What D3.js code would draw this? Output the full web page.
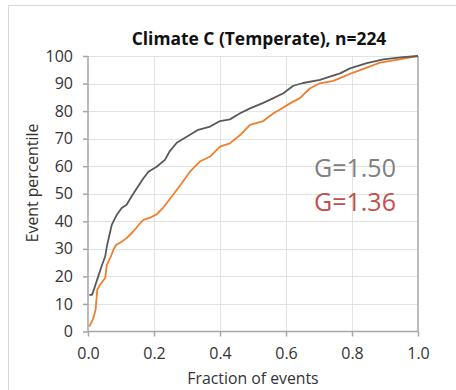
<!DOCTYPE html>
<html>
<head>
<meta charset="utf-8">
<script src="https://cdn.jsdelivr.net/npm/d3@7"></script>
<style>
  html, body { margin: 0; padding: 0; background: #fff; }
  svg { display: block; }
  text { font-family: "Open Sans", Lato, sans-serif; }
</style>
</head>
<body>
<svg id="chart" width="456" height="390"></svg>
<script>
// Cumulative event percentile vs. fraction of events (two Lorenz-type curves)
const chartTitle = "Climate C (Temperate), n=224";
const xTicks = [0, 0.2, 0.4, 0.6, 0.8, 1.0];
const yTicks = [0, 10, 20, 30, 40, 50, 60, 70, 80, 90, 100];

// Gray series
const grayFrac = [0.004, 0.012, 0.021, 0.031, 0.041, 0.052, 0.057, 0.065, 0.072, 0.087, 0.102, 0.117, 0.132, 0.148, 0.168, 0.183, 0.208, 0.233, 0.248, 0.269, 0.299, 0.334, 0.370, 0.400, 0.430, 0.461, 0.491, 0.531, 0.562, 0.592, 0.622, 0.652, 0.703, 0.733, 0.764, 0.794, 0.845, 0.895, 0.955, 1.0];
const grayPct  = [13.3, 13.3, 16.3, 20.0, 23.6, 27.2, 30.8, 35.0, 38.7, 42.3, 44.8, 46.0, 49.0, 52.0, 55.6, 58.0, 59.8, 62.3, 65.5, 68.5, 70.7, 73.2, 74.4, 76.4, 77.0, 79.2, 81.0, 83.0, 84.7, 86.5, 89.2, 90.2, 91.3, 92.5, 93.7, 95.5, 97.4, 98.8, 99.6, 100];

// Orange series
const orangeFrac = [0.004, 0.016, 0.023, 0.028, 0.036, 0.052, 0.057, 0.067, 0.077, 0.085, 0.102, 0.117, 0.137, 0.158, 0.168, 0.188, 0.208, 0.228, 0.254, 0.279, 0.309, 0.339, 0.370, 0.400, 0.430, 0.461, 0.491, 0.531, 0.562, 0.582, 0.612, 0.642, 0.673, 0.703, 0.743, 0.774, 0.804, 0.845, 0.885, 0.935, 0.986, 1.0];
const orangePct  = [1.8, 4.8, 7.9, 15.1, 16.9, 19.4, 24.2, 26.6, 29.6, 31.4, 32.6, 33.9, 36.3, 39.3, 40.5, 41.3, 42.5, 45.0, 49.0, 53.0, 58.0, 61.7, 63.5, 67.1, 68.3, 71.3, 75.0, 76.4, 79.2, 80.6, 82.8, 84.7, 88.3, 90.1, 91.0, 92.5, 94.0, 95.8, 97.6, 98.6, 99.7, 100];

const giniLabels = ["G=1.50", "G=1.36"];

const svg = d3.select("#chart");
const W = 456, H = 390;
const plot = { left: 88, right: 418, top: 56, bottom: 331.5 };

// chart-area frame
svg.append("rect")
  .attr("x", 8.5).attr("y", 5.5)
  .attr("width", W).attr("height", H)
  .attr("fill", "#fff").attr("stroke", "#d9d9d9").attr("stroke-width", 1);

const x = d3.scaleLinear().domain([0, 1]).range([plot.left, plot.right]);
const y = d3.scaleLinear().domain([0, 100]).range([plot.bottom, plot.top]);

// gridlines
const grid = svg.append("g").attr("stroke", "#e3e3e3").attr("stroke-width", 1);
grid.selectAll("line.h").data(yTicks.slice(1)).join("line")
  .attr("x1", plot.left).attr("x2", plot.right)
  .attr("y1", d => Math.round(y(d)) + 0.5).attr("y2", d => Math.round(y(d)) + 0.5);
grid.selectAll("line.v").data(xTicks.slice(1, -1)).join("line")
  .attr("y1", plot.top).attr("y2", plot.bottom)
  .attr("x1", d => Math.round(x(d)) + 0.5).attr("x2", d => Math.round(x(d)) + 0.5);

// right border of plot area
svg.append("line")
  .attr("x1", x(1)).attr("x2", x(1))
  .attr("y1", plot.top).attr("y2", plot.bottom)
  .attr("stroke", "#a6a6a6").attr("stroke-width", 1.5);

// axes
const axisColor = "#a6a6a6";
const yAxis = svg.append("g")
  .attr("transform", `translate(${plot.left},0)`)
  .call(d3.axisLeft(y).tickValues(yTicks).tickSize(5).tickPadding(10).tickFormat(d3.format("d")));
const xAxis = svg.append("g")
  .attr("transform", `translate(0,${plot.bottom})`)
  .call(d3.axisBottom(x).tickValues(xTicks).tickSize(5).tickPadding(11).tickFormat(d3.format(".1f")));

[xAxis, yAxis].forEach(g => {
  g.select(".domain").attr("stroke", axisColor).attr("stroke-width", 1.5);
  g.selectAll(".tick line").attr("stroke", axisColor).attr("stroke-width", 1.5);
  g.selectAll(".tick text")
    .attr("fill", "#333")
    .style("font-family", "'Open Sans', Lato, sans-serif")
    .style("font-size", "16px");
});
yAxis.select(".domain").attr("d", `M0,${plot.bottom}V${plot.top}`);
xAxis.select(".domain").attr("d", `M${plot.left},0H${plot.right}`);

// curves
const line = d3.line().x(d => x(d[0])).y(d => y(d[1]));
const graySeries = grayFrac.map((f, i) => [f, grayPct[i]]);
const orangeSeries = orangeFrac.map((f, i) => [f, orangePct[i]]);

svg.append("path").datum(orangeSeries)
  .attr("d", line).attr("fill", "none")
  .attr("stroke", "#f07f2c").attr("stroke-width", 1.8).attr("stroke-linejoin", "round");
svg.append("path").datum(graySeries)
  .attr("d", line).attr("fill", "none")
  .attr("stroke", "#595959").attr("stroke-width", 1.8).attr("stroke-linejoin", "round");

// title
svg.append("text")
  .attr("x", 259).attr("y", 45)
  .attr("text-anchor", "middle")
  .attr("font-weight", "bold").attr("font-size", 17.4)
  .attr("fill", "#111")
  .text(chartTitle);

// axis titles
svg.append("text")
  .attr("x", 253).attr("y", 384)
  .attr("text-anchor", "middle").attr("font-size", 15.8)
  .attr("fill", "#333")
  .text("Fraction of events");
svg.append("text")
  .attr("transform", "translate(38,183) rotate(-90)")
  .attr("text-anchor", "middle").attr("font-size", 15.8)
  .attr("fill", "#333")
  .text("Event percentile");

// Gini annotations
svg.append("text")
  .attr("x", 314).attr("y", 177)
  .attr("font-size", 25).attr("fill", "#808080")
  .text(giniLabels[0]);
svg.append("text")
  .attr("x", 314).attr("y", 211)
  .attr("font-size", 25).attr("fill", "#c0504d")
  .text(giniLabels[1]);
</script>
</body>
</html>
